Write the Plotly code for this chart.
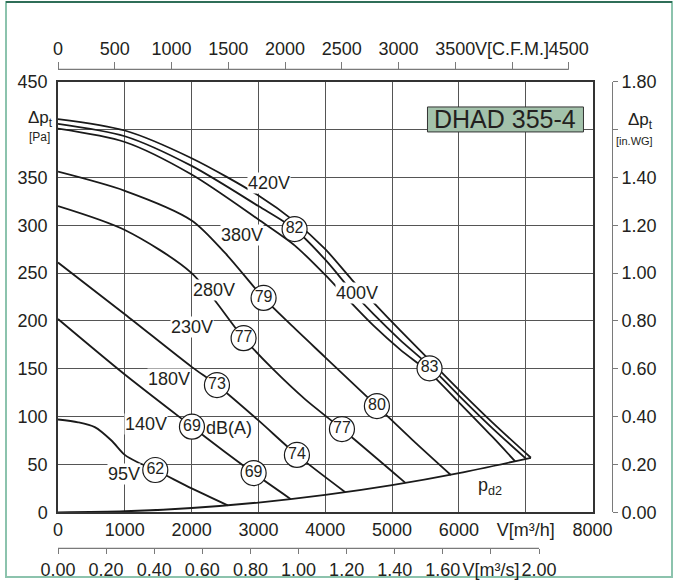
import plotly.graph_objects as go

# ---------------- data ----------------
flow_ticks = [0, 1000, 2000, 3000, 4000, 5000, 6000, 7000, 8000]
flow_ticktext = ["0", "1000", "2000", "3000", "4000", "5000", "6000", "V[m³/h]", "8000"]
pa_ticks = [0, 50, 100, 150, 200, 250, 300, 350, 400, 450]
pa_ticktext = ["0", "50", "100", "150", "200", "250", "300", "350", "", "450"]
cfm_ticks = [0, 500, 1000, 1500, 2000, 2500, 3000, 3500, 4000, 4500]
cfm_ticktext = ["0", "500", "1000", "1500", "2000", "2500", "3000", "3500", "V[C.F.M.]", "4500"]
m3s_ticks = [0, 0.2, 0.4, 0.6, 0.8, 1.0, 1.2, 1.4, 1.6, 1.8, 2.0]
m3s_ticktext = ["0.00", "0.20", "0.40", "0.60", "0.80", "1.00", "1.20", "1.40", "1.60", "V[m³/s]", "2.00"]
inwg_ticks = [0, 0.2, 0.4, 0.6, 0.8, 1.0, 1.2, 1.4, 1.6, 1.8]
inwg_ticktext = ["0.00", "0.20", "0.40", "0.60", "0.80", "1.00", "1.20", "1.40", "", "1.80"]

v420_flow = [0, 1000, 2000, 3000, 3541, 4000, 4400, 4723, 5122, 5561, 6000, 6500, 7078]
v420_pres = [411, 399, 370, 331, 304, 275, 243, 219, 190, 159, 128, 94, 57]
v400_flow = [0, 1000, 2000, 3000, 3541, 4000, 4400, 4723, 5122, 5561, 6000, 6500, 7008]
v400_pres = [406, 393, 362, 320, 296, 264, 231, 207, 180, 153, 122, 88, 55.8]
v380_flow = [0, 1000, 2000, 3000, 3541, 4000, 4400, 4723, 5122, 5561, 6000, 6500, 6843]
v380_pres = [401, 387, 353, 306, 279, 248, 218, 195, 170, 146, 115, 79, 53.2]
v280_flow = [0, 1000, 2000, 2500, 3077, 3500, 4000, 4773, 5300, 5880]
v280_pres = [356, 336, 305, 271, 224, 195, 162, 111, 76, 39]
v230_flow = [0, 1000, 2000, 2778, 3226, 3700, 4250, 5200]
v230_pres = [320, 295, 250, 182, 149, 118, 87, 30.7]
v180_flow = [0, 1000, 2000, 2379, 3000, 3576, 4300]
v180_pres = [261, 207, 152, 133, 96, 60, 21]
v140_flow = [0, 1000, 2005, 2500, 2928, 3480]
v140_pres = [202, 144, 89.5, 63, 41, 14]
v95_flow = [0, 300, 550, 800, 1000, 1200, 1456, 2000, 2540]
v95_pres = [97, 94, 89, 75, 60, 52, 44.2, 25, 7.3]
pd2_flow = [0, 1000, 2000, 3000, 4000, 5000, 6000, 7078]
pd2_pres = [0, 1.1, 4.5, 10.2, 18.2, 28.4, 41, 57]

db_values = ["82", "79", "77", "73", "69", "62", "69", "74", "77", "80", "83"]
db_flow = [3541, 3077, 2778, 2379, 2005, 1456, 2928, 3576, 4250, 4773, 5561]
db_pres = [296, 224, 182, 133, 89.5, 44.2, 41, 60, 87, 111, 150.5]

volt_labels = ["420V", "400V", "380V", "280V", "230V", "180V", "140V", "95V"]
volt_flow = [3152, 4474, 2753, 2339, 2010, 1656, 1321, 982]
volt_pres = [344, 229, 290, 232, 194, 139, 92, 40]

title_text = "DHAD 355-4"

# ---------------- layout geometry ----------------
W_FIG, H_FIG = 675, 580
ML, MR, MT, MB = 58, 40, 60, 20
PW = W_FIG - ML - MR
PH = H_FIG - MT - MB


def fx(px):
    return (px - ML) / PW


def fy(py):
    return (MT + PH - py) / PH


FONT = "Liberation Sans, Arial, Helvetica, sans-serif"
TXT = "#231f20"
GRID = "#555555"
SEC = "#7a7a7a"
LINE = "#1a1a1a"

fig = go.Figure()

curves = [
    (v420_flow, v420_pres), (v400_flow, v400_pres), (v380_flow, v380_pres),
    (v280_flow, v280_pres), (v230_flow, v230_pres), (v180_flow, v180_pres),
    (v140_flow, v140_pres), (v95_flow, v95_pres), (pd2_flow, pd2_pres),
]
for fl, pr in curves:
    fig.add_trace(go.Scatter(x=fl, y=pr, mode="lines",
                             line=dict(color=LINE, width=1.8, shape="spline", smoothing=0.8),
                             showlegend=False, hoverinfo="skip"))

# invisible placeholders so the secondary axes are drawn
fig.add_trace(go.Scatter(x=[0], y=[0], xaxis="x2", yaxis="y", mode="markers", marker=dict(opacity=0),
                         showlegend=False, hoverinfo="skip"))
fig.add_trace(go.Scatter(x=[0], y=[0], xaxis="x3", yaxis="y", mode="markers", marker=dict(opacity=0),
                         showlegend=False, hoverinfo="skip"))
fig.add_trace(go.Scatter(x=[0], y=[0], xaxis="x", yaxis="y2", mode="markers", marker=dict(opacity=0),
                         showlegend=False, hoverinfo="skip"))

# voltage labels (white background, drawn over curves)
for t, xv, yv in zip(volt_labels, volt_flow, volt_pres):
    fig.add_annotation(x=xv, y=yv, text=t, showarrow=False, bgcolor="white", borderpad=0,
                       xanchor="center", yanchor="middle",
                       font=dict(family=FONT, size=18, color=TXT))

# dB circles
fig.add_trace(go.Scatter(x=db_flow, y=db_pres, mode="markers+text", text=db_values,
                         textposition="middle center",
                         textfont=dict(family=FONT, size=16, color=TXT),
                         marker=dict(symbol="circle", size=25, color="white", line=dict(color=LINE, width=1.2)),
                         showlegend=False, hoverinfo="skip", cliponaxis=False))

fig.add_annotation(x=2553, y=88, text="dB(A)", showarrow=False, xanchor="center", yanchor="middle",
                   font=dict(family=FONT, size=18, color=TXT))
fig.add_annotation(x=6470, y=27, text="p<sub>d2</sub>", showarrow=False, xanchor="center", yanchor="middle",
                   font=dict(family=FONT, size=18, color=TXT))

# title box
fig.add_shape(type="rect", xref="x", yref="y", x0=5530, x1=7865, y0=397.5, y1=423.6,
              fillcolor="#a3c2ab", line=dict(color="#333333", width=1), layer="above")
fig.add_annotation(x=6697, y=410.5, text=title_text, showarrow=False, xanchor="center", yanchor="middle",
                   font=dict(family=FONT, size=25, color=TXT))


# axis captions
def caption(px, py, text, size):
    fig.add_annotation(xref="paper", yref="paper", x=fx(px), y=fy(py), text=text, showarrow=False,
                       xanchor="center", yanchor="middle", font=dict(family=FONT, size=size, color=TXT))


caption(40, 119, "Δp<sub>t</sub>", 17)
caption(39, 137, "[Pa]", 12)
caption(640, 121, "Δp<sub>t</sub>", 17)
caption(634, 140.5, "[in.WG]", 11)

# secondary axis lines (only across the labelled range)
top_pos = fy(69.3)
bot_pos = fy(548.3)
fig.add_shape(type="line", xref="x2", yref="paper", x0=0, x1=4500, y0=top_pos, y1=top_pos,
              line=dict(color=SEC, width=1.3))
fig.add_shape(type="line", xref="x3", yref="paper", x0=0, x1=2.0, y0=bot_pos, y1=bot_pos,
              line=dict(color=SEC, width=1.3))

# outer frame
fig.add_shape(type="rect", xref="paper", yref="paper", x0=fx(6), x1=fx(672), y0=fy(577), y1=fy(2),
              line=dict(color="#8cc3ad", width=2), layer="below")
fig.add_shape(type="line", xref="paper", yref="paper", x0=fx(6), x1=fx(672), y0=fy(2), y1=fy(2),
              line=dict(color="#2f6e58", width=2))

x_dom = [0, fx(592.5)]
y_dom = [fy(512.3), fy(81.7)]
tickfont = dict(family=FONT, size=18, color=TXT)

fig.update_layout(
    template="none",
    width=W_FIG, height=H_FIG,
    margin=dict(l=ML, r=MR, t=MT, b=MB, autoexpand=False),
    paper_bgcolor="white", plot_bgcolor="white",
    showlegend=False,
    xaxis=dict(domain=x_dom, range=[0, 8000], tickvals=flow_ticks, ticktext=flow_ticktext,
               showgrid=True, gridcolor=GRID, gridwidth=1, zeroline=False,
               showline=True, mirror=True, linecolor="#333333", linewidth=1.5, tickangle=0,
               ticks="", tickfont=tickfont, ticklabelstandoff=0, automargin=False),
    yaxis=dict(domain=y_dom, range=[0, 450], tickvals=pa_ticks, ticktext=pa_ticktext,
               showgrid=True, gridcolor=GRID, gridwidth=1, zeroline=False,
               showline=True, mirror=True, linecolor="#333333", linewidth=1.5,
               ticks="", tickfont=tickfont, ticklabelstandoff=5, automargin=False),
    xaxis2=dict(overlaying="x", side="top", anchor="free", position=top_pos,
                range=[0, 8000 / 1.699], tickvals=cfm_ticks, ticktext=cfm_ticktext,
                showgrid=False, zeroline=False, showline=False, tickangle=0,
                ticks="outside", ticklen=7, tickcolor=SEC, tickwidth=1.2,
                tickfont=tickfont, automargin=False),
    xaxis3=dict(overlaying="x", side="bottom", anchor="free", position=bot_pos,
                range=[0, 8000 / 3600], tickvals=m3s_ticks, ticktext=m3s_ticktext,
                showgrid=False, zeroline=False, showline=False, tickangle=0,
                ticks="outside", ticklen=5, tickcolor=SEC, tickwidth=1.2,
                tickfont=tickfont, automargin=False),
    yaxis2=dict(overlaying="y", side="right", anchor="free", position=fx(611.7),
                range=[0, 1.80], tickvals=inwg_ticks, ticktext=inwg_ticktext,
                showgrid=False, zeroline=False, showline=True, linecolor=SEC, linewidth=1.3,
                ticks="outside", ticklen=5, tickcolor=SEC, tickwidth=1.2,
                tickfont=tickfont, automargin=False),
)

# the page is photographed from its top-left corner: drop the default body margin
fig.write_html("out.html", config={"displayModeBar": False},
               post_script="document.body.style.margin='0';document.body.style.overflow='hidden';")
